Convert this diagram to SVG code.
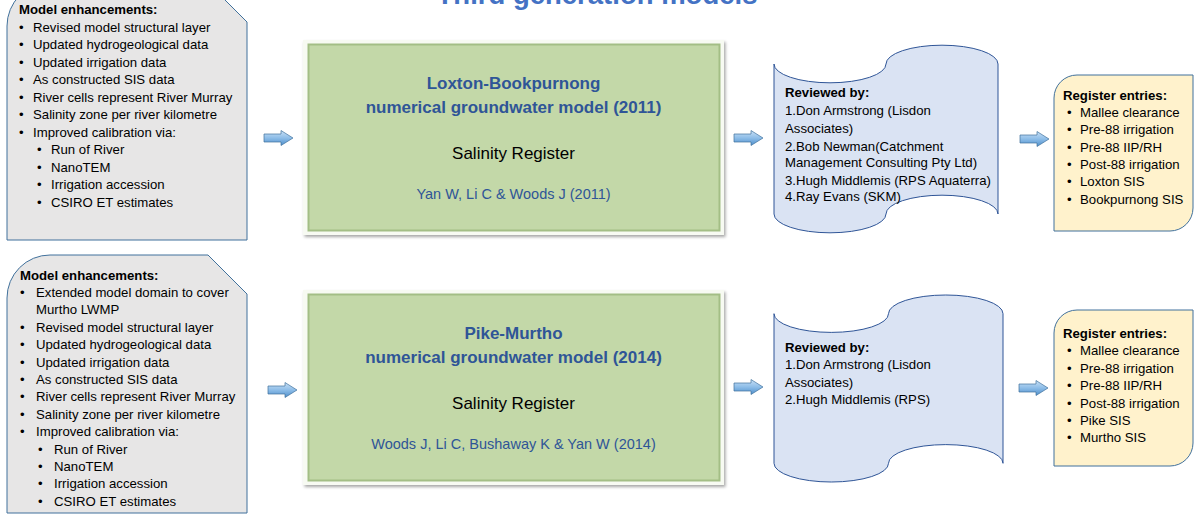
<svg xmlns="http://www.w3.org/2000/svg" width="1196" height="521" viewBox="0 0 1196 521">
<style>
text{font-family:"Liberation Sans",Arial,sans-serif;fill:#000;}
.t{font-size:13.2px;}
.b{font-weight:bold;}
.title{font-size:27.5px;font-weight:bold;fill:#4472C4;}
.gt{font-size:17px;font-weight:bold;fill:#2F5597;text-anchor:middle;}
.sr{font-size:17px;text-anchor:middle;}
.cit{font-size:14.5px;fill:#2F5597;text-anchor:middle;}
.enh{fill:#E7E6E6;stroke:#41719C;stroke-width:1;}
.rev{fill:#DAE3F3;stroke:#2F5597;stroke-width:1;}
.reg{fill:#FFF2CC;stroke:#41719C;stroke-width:1;}
.frame{fill:#F7FAF2;filter:url(#sh);}
.green{fill:#C3D8A8;stroke:#A3BE85;stroke-width:2;}
.arr{fill:url(#ag);stroke:#41719C;stroke-width:0.7;}
</style>
<defs>
<linearGradient id="ag" x1="0" y1="0" x2="0" y2="1">
<stop offset="0" stop-color="#C9E0F5"/>
<stop offset="0.5" stop-color="#8DBDE8"/>
<stop offset="1" stop-color="#4F8FCB"/>
</linearGradient>
<filter id="sh" x="-5%" y="-5%" width="110%" height="115%">
<feDropShadow dx="1.5" dy="2" stdDeviation="1.8" flood-color="#000" flood-opacity="0.35"/>
</filter>
<path id="ar" d="M0,-4 H17 V-7.5 L29,0 L17,7.5 V4 H0 Z"/>
</defs>

<text class="title" x="597" y="4" text-anchor="middle">Third generation models</text>

<g id="enh1">
<path class="enh" d="M7,240 V26 A43,43 0 0 1 50,-17 H208 L247,22 V240 Z"/>
<text class="t b" x="19" y="14">Model enhancements:</text>
<text class="t"><tspan x="19" y="31.5">•</tspan><tspan x="33" y="31.5">Revised model structural layer</tspan>
<tspan x="19" y="49">•</tspan><tspan x="33" y="49">Updated hydrogeological data</tspan>
<tspan x="19" y="66.5">•</tspan><tspan x="33" y="66.5">Updated irrigation data</tspan>
<tspan x="19" y="84">•</tspan><tspan x="33" y="84">As constructed SIS data</tspan>
<tspan x="19" y="101.5">•</tspan><tspan x="33" y="101.5">River cells represent River Murray</tspan>
<tspan x="19" y="119">•</tspan><tspan x="33" y="119">Salinity zone per river kilometre</tspan>
<tspan x="19" y="136.5">•</tspan><tspan x="33" y="136.5">Improved calibration via:</tspan>
<tspan x="37" y="154">•</tspan><tspan x="51" y="154">Run of River</tspan>
<tspan x="37" y="171.5">•</tspan><tspan x="51" y="171.5">NanoTEM</tspan>
<tspan x="37" y="189">•</tspan><tspan x="51" y="189">Irrigation accession</tspan>
<tspan x="37" y="206.5">•</tspan><tspan x="51" y="206.5">CSIRO ET estimates</tspan></text>
</g>

<g id="enh2">
<path class="enh" d="M7,513 V298 A43,43 0 0 1 50,255 H208 L247,294 V513 Z"/>
<text class="t b" x="20" y="279.5">Model enhancements:</text>
<text class="t"><tspan x="20" y="297">•</tspan><tspan x="36" y="297">Extended model domain to cover</tspan>
<tspan x="36" y="314.3">Murtho LWMP</tspan>
<tspan x="20" y="331.7">•</tspan><tspan x="36" y="331.7">Revised model structural layer</tspan>
<tspan x="20" y="349">•</tspan><tspan x="36" y="349">Updated hydrogeological data</tspan>
<tspan x="20" y="366.5">•</tspan><tspan x="36" y="366.5">Updated irrigation data</tspan>
<tspan x="20" y="384">•</tspan><tspan x="36" y="384">As constructed SIS data</tspan>
<tspan x="20" y="401.3">•</tspan><tspan x="36" y="401.3">River cells represent River Murray</tspan>
<tspan x="20" y="418.7">•</tspan><tspan x="36" y="418.7">Salinity zone per river kilometre</tspan>
<tspan x="20" y="436">•</tspan><tspan x="36" y="436">Improved calibration via:</tspan>
<tspan x="38" y="453.5">•</tspan><tspan x="54" y="453.5">Run of River</tspan>
<tspan x="38" y="471">•</tspan><tspan x="54" y="471">NanoTEM</tspan>
<tspan x="38" y="488.3">•</tspan><tspan x="54" y="488.3">Irrigation accession</tspan>
<tspan x="38" y="505.7">•</tspan><tspan x="54" y="505.7">CSIRO ET estimates</tspan></text>
</g>

<g id="model1">
<rect class="frame" x="303" y="40" width="421" height="195"/>
<rect class="green" x="308.5" y="44.5" width="411" height="186"/>
<text class="gt" x="513.5" y="89">Loxton-Bookpurnong</text>
<text class="gt" x="513.5" y="112.5">numerical groundwater model (2011)</text>
<text class="sr" x="513.5" y="159">Salinity Register</text>
<text class="cit" x="513.5" y="199">Yan W, Li C &amp; Woods J (2011)</text>
</g>

<g id="model2">
<rect class="frame" x="303" y="290" width="421" height="195"/>
<rect class="green" x="308.5" y="294.5" width="411" height="186"/>
<text class="gt" x="513.5" y="339">Pike-Murtho</text>
<text class="gt" x="513.5" y="363">numerical groundwater model (2014)</text>
<text class="sr" x="513.5" y="409">Salinity Register</text>
<text class="cit" x="513.5" y="448.5">Woods J, Li C, Bushaway K &amp; Yan W (2014)</text>
</g>

<g id="review1">
<path class="rev" d="M774,64 A56,18.8 0 0 0 886,64 A56,18.8 0 0 1 998,64 L998,214 A56,18.8 0 0 0 886,214 A56,18.8 0 0 1 774,214 Z"/>
<text class="t b" x="785" y="97">Reviewed by:</text>
<text class="t"><tspan x="785" y="115">1.Don Armstrong (Lisdon</tspan>
<tspan x="785" y="133">Associates)</tspan>
<tspan x="785" y="150.5">2.Bob Newman(Catchment</tspan>
<tspan x="785" y="167">Management Consulting Pty Ltd)</tspan>
<tspan x="785" y="184.5">3.Hugh Middlemis (RPS Aquaterra)</tspan>
<tspan x="785" y="201">4.Ray Evans (SKM)</tspan></text>
</g>

<g id="review2">
<path class="rev" d="M774,313.7 A57.25,18.7 0 0 0 888.5,313.7 A57.25,18.7 0 0 1 1003,313.7 L1003,463.3 A57.25,18.7 0 0 0 888.5,463.3 A57.25,18.7 0 0 1 774,463.3 Z"/>
<text class="t b" x="785" y="351.5">Reviewed by:</text>
<text class="t"><tspan x="785" y="369">1.Don Armstrong (Lisdon</tspan>
<tspan x="785" y="386.5">Associates)</tspan>
<tspan x="785" y="404">2.Hugh Middlemis (RPS)</tspan></text>
</g>

<g id="register1">
<path class="reg" d="M1054,231 V98 A23,23 0 0 1 1077,75 H1193 V208 A23,23 0 0 1 1170,231 Z"/>
<text class="t b" x="1063" y="99.5">Register entries:</text>
<text class="t"><tspan x="1067" y="116.5">•</tspan><tspan x="1080" y="116.5">Mallee clearance</tspan>
<tspan x="1067" y="134">•</tspan><tspan x="1080" y="134">Pre-88 irrigation</tspan>
<tspan x="1067" y="151.5">•</tspan><tspan x="1080" y="151.5">Pre-88 IIP/RH</tspan>
<tspan x="1067" y="169">•</tspan><tspan x="1080" y="169">Post-88 irrigation</tspan>
<tspan x="1067" y="186">•</tspan><tspan x="1080" y="186">Loxton SIS</tspan>
<tspan x="1067" y="203.5">•</tspan><tspan x="1080" y="203.5">Bookpurnong SIS</tspan></text>
</g>

<g id="register2">
<path class="reg" d="M1054,466 V333 A23,23 0 0 1 1077,310 H1193 V443 A23,23 0 0 1 1170,466 Z"/>
<text class="t b" x="1063" y="337.5">Register entries:</text>
<text class="t"><tspan x="1067" y="355">•</tspan><tspan x="1080" y="355">Mallee clearance</tspan>
<tspan x="1067" y="372.5">•</tspan><tspan x="1080" y="372.5">Pre-88 irrigation</tspan>
<tspan x="1067" y="390">•</tspan><tspan x="1080" y="390">Pre-88 IIP/RH</tspan>
<tspan x="1067" y="407.5">•</tspan><tspan x="1080" y="407.5">Post-88 irrigation</tspan>
<tspan x="1067" y="424.5">•</tspan><tspan x="1080" y="424.5">Pike SIS</tspan>
<tspan x="1067" y="442">•</tspan><tspan x="1080" y="442">Murtho SIS</tspan></text>
</g>

<g id="connectors">
<use href="#ar" class="arr" transform="translate(264,138)"/>
<use href="#ar" class="arr" transform="translate(268,390)"/>
<use href="#ar" class="arr" transform="translate(734,138)"/>
<use href="#ar" class="arr" transform="translate(734,387)"/>
<use href="#ar" class="arr" transform="translate(1020,139)"/>
<use href="#ar" class="arr" transform="translate(1019,388)"/>
</g>
</svg>
